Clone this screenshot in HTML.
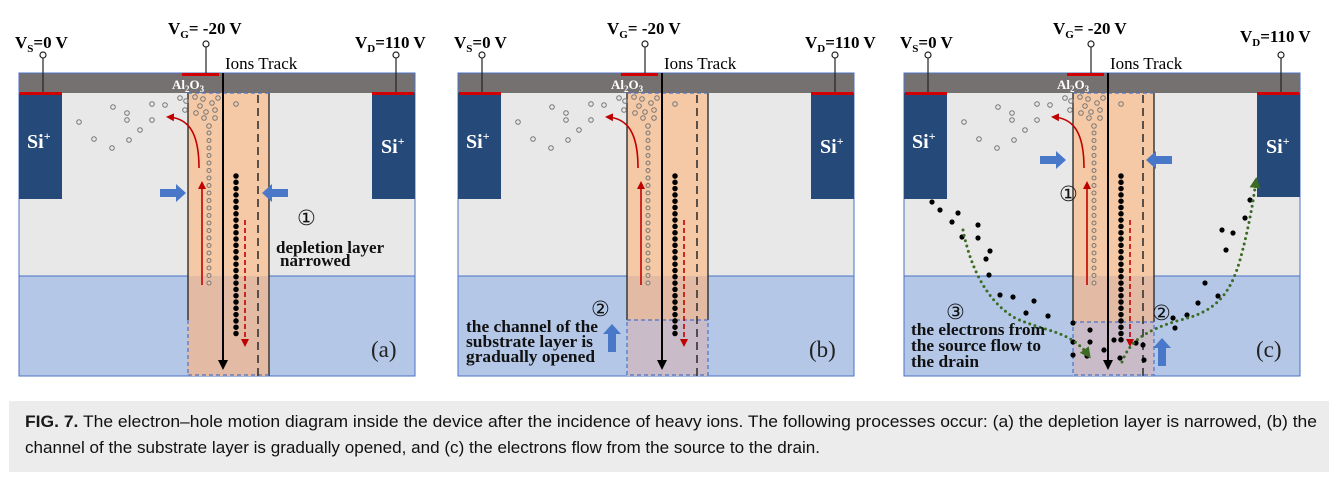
<!DOCTYPE html>
<html><head><meta charset="utf-8"><style>
html,body{margin:0;padding:0;background:#fff;}
svg{display:block;}
.lbl{font-family:"Liberation Serif",serif;font-weight:bold;font-size:17px;fill:#000;}
.sub{font-size:11px;}
.ion{font-family:"Liberation Serif",serif;font-size:17px;fill:#000;}
.al{font-family:"Liberation Serif",serif;font-weight:bold;font-size:13px;fill:#fff;}
.si{font-family:"Liberation Serif",serif;font-weight:bold;font-size:20px;fill:#fff;}
.note{font-family:"Liberation Serif",serif;font-weight:bold;font-size:17px;fill:#111;}
.num{font-family:"DejaVu Sans",sans-serif;font-size:21px;fill:#111;}
.pl{font-family:"Liberation Serif",serif;font-size:23px;fill:#222;}
.cap{font-family:"Liberation Sans Narrow","Liberation Sans",sans-serif;font-size:17px;fill:#111;}
</style></head><body>
<svg width="1339" height="484" viewBox="0 0 1339 484" xmlns="http://www.w3.org/2000/svg">
<defs>
<marker id="ar" markerWidth="8" markerHeight="8" refX="6" refY="4" orient="auto" markerUnits="userSpaceOnUse"><path d="M0,0 L8,4 L0,8z" fill="#c00000"/></marker>
<marker id="ak" markerWidth="10" markerHeight="10" refX="8" refY="5" orient="auto" markerUnits="userSpaceOnUse"><path d="M0,0 L10,5 L0,10z" fill="#000"/></marker>
<marker id="ag" markerWidth="11" markerHeight="11" refX="8" refY="5.5" orient="auto" markerUnits="userSpaceOnUse"><path d="M0,0 L11,5.5 L0,11z" fill="#3c6b24"/></marker>
</defs>

<!-- ============ PANEL A ============ -->
<g id="pa">
<rect x="19" y="92" width="396" height="184" fill="#e8e8e8"/>
<rect x="19" y="276" width="396" height="100" fill="#b4c7e7"/>
<rect x="19" y="73" width="396" height="20" fill="#767171"/>
<rect x="19" y="73" width="396" height="303" fill="none" stroke="#4a72c4" stroke-width="1"/>
<line x1="19" y1="276" x2="415" y2="276" stroke="#4a72c4" stroke-width="1"/>
<rect x="19" y="93" width="43" height="106" fill="#254a7a"/>
<rect x="372" y="93" width="43" height="106" fill="#254a7a"/>
<rect x="20" y="92" width="42" height="3" fill="#d00000"/>
<rect x="372" y="92" width="42" height="3" fill="#d00000"/>
<rect x="182" y="73" width="37" height="3" fill="#d00000"/>
<rect x="188" y="93" width="81" height="183" fill="#f5c9a6"/>
<rect x="188" y="276" width="81" height="100" fill="#e3bba5"/>
<line x1="188" y1="93" x2="188" y2="320" stroke="#222" stroke-width="1.3"/>
<line x1="269" y1="93" x2="269" y2="376" stroke="#222" stroke-width="1.3"/>
<line x1="188" y1="320" x2="188" y2="376" stroke="#4a72c4" stroke-width="1.2" stroke-dasharray="4 3"/>
<line x1="188" y1="93" x2="269" y2="93" stroke="#4a72c4" stroke-width="1.2" stroke-dasharray="4 3"/>
<line x1="188" y1="375" x2="269" y2="375" stroke="#4a72c4" stroke-width="1.2" stroke-dasharray="4 3"/>
<line x1="258" y1="95" x2="258" y2="376" stroke="#333" stroke-width="1.6" stroke-dasharray="8 5"/>
<text class="si" x="27" y="148">Si<tspan font-size="12" dy="-8">+</tspan></text>
<text class="si" x="381" y="153">Si<tspan font-size="12" dy="-8">+</tspan></text>
<text class="al" x="172" y="89">Al<tspan font-size="9" dy="3">2</tspan><tspan dy="-3">O</tspan><tspan font-size="9" dy="3">3</tspan></text>
<line x1="43" y1="58" x2="43" y2="92" stroke="#222" stroke-width="1.2"/><circle cx="43" cy="55" r="3" fill="#fff" stroke="#222" stroke-width="1.2"/>
<line x1="206" y1="47" x2="206" y2="73" stroke="#222" stroke-width="1.2"/><circle cx="206" cy="44" r="3" fill="#fff" stroke="#222" stroke-width="1.2"/>
<line x1="396" y1="58" x2="396" y2="92" stroke="#222" stroke-width="1.2"/><circle cx="396" cy="55" r="3" fill="#fff" stroke="#222" stroke-width="1.2"/>
<text class="lbl" x="15" y="48">V<tspan class="sub" dy="4">S</tspan><tspan dy="-4">=0 V</tspan></text>
<text class="lbl" x="168" y="34">V<tspan class="sub" dy="4">G</tspan><tspan dy="-4">= -20 V</tspan></text>
<text class="lbl" x="355" y="48">V<tspan class="sub" dy="4">D</tspan><tspan dy="-4">=110 V</tspan></text>
<text class="ion" x="225" y="69">Ions Track</text>
<g fill="none" stroke="#777" stroke-width="1">
<circle cx="79" cy="122" r="2.3"/><circle cx="94" cy="139" r="2.3"/><circle cx="113" cy="107" r="2.3"/><circle cx="127" cy="113" r="2.3"/><circle cx="127" cy="120" r="2.3"/><circle cx="140" cy="130" r="2.3"/><circle cx="129" cy="140" r="2.3"/><circle cx="112" cy="148" r="2.3"/><circle cx="152" cy="104" r="2.3"/><circle cx="165" cy="105" r="2.3"/><circle cx="152" cy="120" r="2.3"/><circle cx="180" cy="98" r="2.3"/><circle cx="185" cy="110" r="2.3"/><circle cx="186" cy="101" r="2.3"/><circle cx="195" cy="97" r="2.3"/><circle cx="203" cy="99" r="2.3"/><circle cx="218" cy="98" r="2.3"/><circle cx="200" cy="106" r="2.3"/><circle cx="212" cy="103" r="2.3"/><circle cx="215" cy="110" r="2.3"/><circle cx="206" cy="112" r="2.3"/><circle cx="196" cy="113" r="2.3"/><circle cx="204" cy="118" r="2.3"/><circle cx="215" cy="118" r="2.3"/><circle cx="236" cy="104" r="2.3"/><circle cx="209" cy="126" r="2.3"/>
</g>
<line x1="209" y1="133" x2="209" y2="284" stroke="#777" stroke-width="5" stroke-linecap="round" stroke-dasharray="0 7.5"/>
<line x1="209" y1="133" x2="209" y2="284" stroke="#f2c6a5" stroke-width="3" stroke-linecap="round" stroke-dasharray="0 7.5"/>
<line x1="236" y1="176" x2="236" y2="334" stroke="#000" stroke-width="5.5" stroke-linecap="round" stroke-dasharray="0 6.3"/>
<line x1="223" y1="73" x2="223" y2="368" stroke="#000" stroke-width="2" marker-end="url(#ak)"/>
<path d="M199,168 C199,135 190,118 168,117" fill="none" stroke="#c00000" stroke-width="1.6" marker-end="url(#ar)"/>
<line x1="202" y1="285" x2="202" y2="183" stroke="#c00000" stroke-width="1.6" marker-end="url(#ar)"/>
<line x1="245" y1="220" x2="245" y2="345" stroke="#c00000" stroke-width="1.6" stroke-dasharray="5 3" marker-end="url(#ar)"/>
<path d="M160,189 h16 v-5 l10,9 l-10,9 v-5 h-16z" fill="#4a78c8"/>
<path d="M288,189 h-16 v-5 l-10,9 l10,9 v-5 h16z" fill="#4a78c8"/>
<text class="num" x="297" y="225">①</text>
<text class="note" x="276" y="253">depletion layer</text>
<text class="note" x="280" y="266">narrowed</text>
<text class="pl" x="371" y="357">(a)</text>
</g>

<!-- ============ PANEL B ============ -->
<g transform="translate(439,0)">
<rect x="19" y="92" width="396" height="184" fill="#e8e8e8"/>
<rect x="19" y="276" width="396" height="100" fill="#b4c7e7"/>
<rect x="19" y="73" width="396" height="20" fill="#767171"/>
<rect x="19" y="73" width="396" height="303" fill="none" stroke="#4a72c4" stroke-width="1"/>
<line x1="19" y1="276" x2="415" y2="276" stroke="#4a72c4" stroke-width="1"/>
<rect x="19" y="93" width="43" height="106" fill="#254a7a"/>
<rect x="372" y="93" width="43" height="106" fill="#254a7a"/>
<rect x="20" y="92" width="42" height="3" fill="#d00000"/>
<rect x="372" y="92" width="42" height="3" fill="#d00000"/>
<rect x="182" y="73" width="37" height="3" fill="#d00000"/>
<rect x="188" y="93" width="81" height="183" fill="#f5c9a6"/>
<rect x="188" y="276" width="81" height="44" fill="#e3bba5"/>
<rect x="188" y="320" width="81" height="56" fill="#c9bcc8"/>
<line x1="188" y1="93" x2="188" y2="320" stroke="#222" stroke-width="1.3"/>
<line x1="269" y1="93" x2="269" y2="320" stroke="#222" stroke-width="1.3"/>
<rect x="188" y="320" width="81" height="55" fill="none" stroke="#4a72c4" stroke-width="1.2" stroke-dasharray="4 3"/>
<line x1="188" y1="93" x2="269" y2="93" stroke="#4a72c4" stroke-width="1.2" stroke-dasharray="4 3"/>
<line x1="258" y1="95" x2="258" y2="376" stroke="#333" stroke-width="1.6" stroke-dasharray="8 5"/>
<text class="si" x="27" y="148">Si<tspan font-size="12" dy="-8">+</tspan></text>
<text class="si" x="381" y="153">Si<tspan font-size="12" dy="-8">+</tspan></text>
<text class="al" x="172" y="89">Al<tspan font-size="9" dy="3">2</tspan><tspan dy="-3">O</tspan><tspan font-size="9" dy="3">3</tspan></text>
<line x1="43" y1="58" x2="43" y2="92" stroke="#222" stroke-width="1.2"/><circle cx="43" cy="55" r="3" fill="#fff" stroke="#222" stroke-width="1.2"/>
<line x1="206" y1="47" x2="206" y2="73" stroke="#222" stroke-width="1.2"/><circle cx="206" cy="44" r="3" fill="#fff" stroke="#222" stroke-width="1.2"/>
<line x1="396" y1="58" x2="396" y2="92" stroke="#222" stroke-width="1.2"/><circle cx="396" cy="55" r="3" fill="#fff" stroke="#222" stroke-width="1.2"/>
<text class="lbl" x="15" y="48">V<tspan class="sub" dy="4">S</tspan><tspan dy="-4">=0 V</tspan></text>
<text class="lbl" x="168" y="34">V<tspan class="sub" dy="4">G</tspan><tspan dy="-4">= -20 V</tspan></text>
<text class="lbl" x="366" y="48">V<tspan class="sub" dy="4">D</tspan><tspan dy="-4">=110 V</tspan></text>
<text class="ion" x="225" y="69">Ions Track</text>
<g fill="none" stroke="#777" stroke-width="1">
<circle cx="79" cy="122" r="2.3"/><circle cx="94" cy="139" r="2.3"/><circle cx="113" cy="107" r="2.3"/><circle cx="127" cy="113" r="2.3"/><circle cx="127" cy="120" r="2.3"/><circle cx="140" cy="130" r="2.3"/><circle cx="129" cy="140" r="2.3"/><circle cx="112" cy="148" r="2.3"/><circle cx="152" cy="104" r="2.3"/><circle cx="165" cy="105" r="2.3"/><circle cx="152" cy="120" r="2.3"/><circle cx="180" cy="98" r="2.3"/><circle cx="185" cy="110" r="2.3"/><circle cx="186" cy="101" r="2.3"/><circle cx="195" cy="97" r="2.3"/><circle cx="203" cy="99" r="2.3"/><circle cx="218" cy="98" r="2.3"/><circle cx="200" cy="106" r="2.3"/><circle cx="212" cy="103" r="2.3"/><circle cx="215" cy="110" r="2.3"/><circle cx="206" cy="112" r="2.3"/><circle cx="196" cy="113" r="2.3"/><circle cx="204" cy="118" r="2.3"/><circle cx="215" cy="118" r="2.3"/><circle cx="236" cy="104" r="2.3"/><circle cx="209" cy="126" r="2.3"/>
</g>
<line x1="209" y1="133" x2="209" y2="284" stroke="#777" stroke-width="5" stroke-linecap="round" stroke-dasharray="0 7.5"/>
<line x1="209" y1="133" x2="209" y2="284" stroke="#f2c6a5" stroke-width="3" stroke-linecap="round" stroke-dasharray="0 7.5"/>
<line x1="236" y1="176" x2="236" y2="334" stroke="#000" stroke-width="5.5" stroke-linecap="round" stroke-dasharray="0 6.3"/>
<line x1="223" y1="73" x2="223" y2="368" stroke="#000" stroke-width="2" marker-end="url(#ak)"/>
<path d="M199,168 C199,135 190,118 168,117" fill="none" stroke="#c00000" stroke-width="1.6" marker-end="url(#ar)"/>
<line x1="202" y1="285" x2="202" y2="183" stroke="#c00000" stroke-width="1.6" marker-end="url(#ar)"/>
<line x1="245" y1="220" x2="245" y2="345" stroke="#c00000" stroke-width="1.6" stroke-dasharray="5 3" marker-end="url(#ar)"/>
<text class="num" x="152" y="316">②</text>
<text class="note" x="27" y="332" textLength="132" lengthAdjust="spacingAndGlyphs">the channel of the</text>
<text class="note" x="27" y="347" textLength="127" lengthAdjust="spacingAndGlyphs">substrate layer is</text>
<text class="note" x="27" y="362" textLength="129" lengthAdjust="spacingAndGlyphs">gradually opened</text>
<path d="M169,352 v-18 h-5 l9,-10 l9,10 h-5 v18z" fill="#4a78c8"/>
<text class="pl" x="370" y="357">(b)</text>
</g>

<!-- ============ PANEL C ============ -->
<g transform="translate(885,0)">
<rect x="19" y="92" width="396" height="184" fill="#e8e8e8"/>
<rect x="19" y="276" width="396" height="100" fill="#b4c7e7"/>
<rect x="19" y="73" width="396" height="20" fill="#767171"/>
<rect x="19" y="73" width="396" height="303" fill="none" stroke="#4a72c4" stroke-width="1"/>
<line x1="19" y1="276" x2="415" y2="276" stroke="#4a72c4" stroke-width="1"/>
<rect x="19" y="93" width="43" height="106" fill="#254a7a"/>
<rect x="372" y="93" width="43" height="104" fill="#254a7a"/>
<rect x="20" y="92" width="42" height="3" fill="#d00000"/>
<rect x="372" y="92" width="42" height="3" fill="#d00000"/>
<rect x="182" y="73" width="37" height="3" fill="#d00000"/>
<rect x="188" y="93" width="81" height="183" fill="#f5c9a6"/>
<rect x="188" y="276" width="81" height="46" fill="#e3bba5"/>
<rect x="188" y="322" width="81" height="54" fill="#c9bcc8"/>
<line x1="188" y1="93" x2="188" y2="322" stroke="#222" stroke-width="1.3"/>
<line x1="269" y1="93" x2="269" y2="322" stroke="#222" stroke-width="1.3"/>
<rect x="188" y="322" width="81" height="53" fill="none" stroke="#4a72c4" stroke-width="1.2" stroke-dasharray="4 3"/>
<line x1="188" y1="93" x2="269" y2="93" stroke="#4a72c4" stroke-width="1.2" stroke-dasharray="4 3"/>
<line x1="258" y1="95" x2="258" y2="376" stroke="#333" stroke-width="1.6" stroke-dasharray="8 5"/>
<text class="si" x="27" y="148">Si<tspan font-size="12" dy="-8">+</tspan></text>
<text class="si" x="381" y="153">Si<tspan font-size="12" dy="-8">+</tspan></text>
<text class="al" x="172" y="89">Al<tspan font-size="9" dy="3">2</tspan><tspan dy="-3">O</tspan><tspan font-size="9" dy="3">3</tspan></text>
<line x1="43" y1="58" x2="43" y2="92" stroke="#222" stroke-width="1.2"/><circle cx="43" cy="55" r="3" fill="#fff" stroke="#222" stroke-width="1.2"/>
<line x1="206" y1="47" x2="206" y2="73" stroke="#222" stroke-width="1.2"/><circle cx="206" cy="44" r="3" fill="#fff" stroke="#222" stroke-width="1.2"/>
<line x1="396" y1="58" x2="396" y2="92" stroke="#222" stroke-width="1.2"/><circle cx="396" cy="55" r="3" fill="#fff" stroke="#222" stroke-width="1.2"/>
<text class="lbl" x="15" y="48">V<tspan class="sub" dy="4">S</tspan><tspan dy="-4">=0 V</tspan></text>
<text class="lbl" x="168" y="34">V<tspan class="sub" dy="4">G</tspan><tspan dy="-4">= -20 V</tspan></text>
<text class="lbl" x="355" y="42">V<tspan class="sub" dy="4">D</tspan><tspan dy="-4">=110 V</tspan></text>
<text class="ion" x="225" y="69">Ions Track</text>
<g fill="none" stroke="#777" stroke-width="1">
<circle cx="79" cy="122" r="2.3"/><circle cx="94" cy="139" r="2.3"/><circle cx="113" cy="107" r="2.3"/><circle cx="127" cy="113" r="2.3"/><circle cx="127" cy="120" r="2.3"/><circle cx="140" cy="130" r="2.3"/><circle cx="129" cy="140" r="2.3"/><circle cx="112" cy="148" r="2.3"/><circle cx="152" cy="104" r="2.3"/><circle cx="165" cy="105" r="2.3"/><circle cx="152" cy="120" r="2.3"/><circle cx="180" cy="98" r="2.3"/><circle cx="185" cy="110" r="2.3"/><circle cx="186" cy="101" r="2.3"/><circle cx="195" cy="97" r="2.3"/><circle cx="203" cy="99" r="2.3"/><circle cx="218" cy="98" r="2.3"/><circle cx="200" cy="106" r="2.3"/><circle cx="212" cy="103" r="2.3"/><circle cx="215" cy="110" r="2.3"/><circle cx="206" cy="112" r="2.3"/><circle cx="196" cy="113" r="2.3"/><circle cx="204" cy="118" r="2.3"/><circle cx="215" cy="118" r="2.3"/><circle cx="236" cy="104" r="2.3"/><circle cx="209" cy="126" r="2.3"/>
</g>
<line x1="209" y1="133" x2="209" y2="284" stroke="#777" stroke-width="5" stroke-linecap="round" stroke-dasharray="0 7.5"/>
<line x1="209" y1="133" x2="209" y2="284" stroke="#f2c6a5" stroke-width="3" stroke-linecap="round" stroke-dasharray="0 7.5"/>
<line x1="236" y1="176" x2="236" y2="340" stroke="#000" stroke-width="5.5" stroke-linecap="round" stroke-dasharray="0 6.3"/>
<line x1="223" y1="73" x2="223" y2="368" stroke="#000" stroke-width="2" marker-end="url(#ak)"/>
<path d="M199,168 C199,135 190,118 168,117" fill="none" stroke="#c00000" stroke-width="1.6" marker-end="url(#ar)"/>
<line x1="202" y1="285" x2="202" y2="183" stroke="#c00000" stroke-width="1.6" marker-end="url(#ar)"/>
<line x1="245" y1="220" x2="245" y2="345" stroke="#c00000" stroke-width="1.6" stroke-dasharray="5 3" marker-end="url(#ar)"/>
<path d="M155,156 h16 v-5 l10,9 l-10,9 v-5 h-16z" fill="#4a78c8"/>
<path d="M287,156 h-16 v-5 l-10,9 l10,9 v-5 h16z" fill="#4a78c8"/>
<g fill="#000">
<circle cx="47" cy="202" r="2.6"/><circle cx="55" cy="210" r="2.6"/><circle cx="73" cy="213" r="2.6"/><circle cx="67" cy="222" r="2.6"/><circle cx="93" cy="225" r="2.6"/><circle cx="77" cy="237" r="2.6"/><circle cx="93" cy="238" r="2.6"/><circle cx="105" cy="251" r="2.6"/><circle cx="101" cy="259" r="2.6"/><circle cx="104" cy="275" r="2.6"/><circle cx="115" cy="295" r="2.6"/><circle cx="128" cy="297" r="2.6"/><circle cx="149" cy="301" r="2.6"/><circle cx="141" cy="313" r="2.6"/><circle cx="163" cy="316" r="2.6"/><circle cx="188" cy="323" r="2.6"/><circle cx="188" cy="342" r="2.6"/><circle cx="205" cy="342" r="2.6"/><circle cx="188" cy="355" r="2.6"/><circle cx="202" cy="356" r="2.6"/><circle cx="229" cy="340" r="2.6"/><circle cx="235" cy="358" r="2.6"/><circle cx="251" cy="343" r="2.6"/><circle cx="258" cy="345" r="2.6"/><circle cx="219" cy="350" r="2.6"/><circle cx="259" cy="360" r="2.6"/><circle cx="288" cy="318" r="2.6"/><circle cx="290" cy="328" r="2.6"/><circle cx="302" cy="315" r="2.6"/><circle cx="313" cy="303" r="2.6"/><circle cx="333" cy="296" r="2.6"/><circle cx="320" cy="283" r="2.6"/><circle cx="341" cy="250" r="2.6"/><circle cx="348" cy="233" r="2.6"/><circle cx="337" cy="230" r="2.6"/><circle cx="365" cy="200" r="2.6"/><circle cx="360" cy="218" r="2.6"/><circle cx="205" cy="330" r="2.6"/>
</g>
<path d="M78,230 C85,265 100,300 130,318 C160,332 185,330 204,356" fill="none" stroke="#3c6b24" stroke-width="3" stroke-linecap="round" stroke-dasharray="0 5.5" marker-end="url(#ag)"/>
<path d="M237,362 C245,340 262,330 295,320 C330,312 345,295 355,260 C362,235 368,205 371,180" fill="none" stroke="#3c6b24" stroke-width="3" stroke-linecap="round" stroke-dasharray="0 5.5" marker-end="url(#ag)"/>
<text class="num" x="174" y="201">①</text>
<text class="num" x="267" y="320">②</text>
<text class="num" x="61" y="319">③</text>
<text class="note" x="26" y="335" textLength="134" lengthAdjust="spacingAndGlyphs">the electrons from</text>
<text class="note" x="26" y="351" textLength="130" lengthAdjust="spacingAndGlyphs">the source flow to</text>
<text class="note" x="26" y="367" textLength="68" lengthAdjust="spacingAndGlyphs">the drain</text>
<path d="M273,366 v-18 h-5 l9,-10 l9,10 h-5 v18z" fill="#4a78c8"/>
<text class="pl" x="371" y="357">(c)</text>
</g>

<!-- caption -->
<rect x="9" y="401" width="1320" height="71" fill="#ececec"/>
<text class="cap" x="25" y="427" textLength="1292" lengthAdjust="spacingAndGlyphs"><tspan font-weight="bold" fill="#1a1a1a">FIG. 7.</tspan>  The electron–hole motion diagram inside the device after the incidence of heavy ions. The following processes occur: (a) the depletion layer is narrowed, (b) the</text>
<text class="cap" x="25" y="453" textLength="795" lengthAdjust="spacingAndGlyphs">channel of the substrate layer is gradually opened, and (c) the electrons flow from the source to the drain.</text>
</svg>
</body></html>
